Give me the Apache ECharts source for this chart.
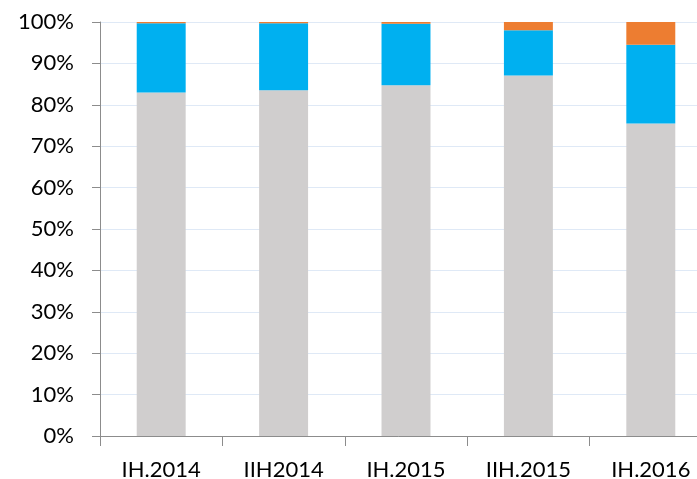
<!DOCTYPE html>
<html>
<head>
    <meta charset="utf-8">
    <title>ECharts</title>
    <script src="https://cdn.jsdelivr.net/npm/echarts@6/dist/echarts.min.js"></script>
</head>
<body style="margin:0;">
    <div id="main" style="width:697px;height:479px;"></div>
<script>
var categories = ['IH.2014', 'IIH2014', 'IH.2015', 'IIH.2015', 'IH.2016'];
var grayValues = [83.0, 83.5, 84.7, 87.1, 75.5];
var blueValues = [16.7, 16.2, 14.9, 10.9, 19.0];
var orangeValues = [0.3, 0.3, 0.4, 2.0, 5.5];
var yTicks = [0, 100, 10]; // min, max, interval

var myChart = echarts.init(document.getElementById('main'));

var fontFamily = 'Lato, "Open Sans", sans-serif';

function barSeries(name, data, color) {
    return {
        name: name,
        type: 'bar',
        stack: 'total',
        barWidth: '40%',
        data: data,
        itemStyle: { color: color },
        silent: true
    };
}

var option = {
    animation: false,
    backgroundColor: '#ffffff',
    grid: {
        left: 100,
        top: 22,
        width: 612,
        height: 414,
        outerBoundsMode: 'none',
        containLabel: false
    },
    xAxis: {
        type: 'category',
        data: categories,
        axisLine: { lineStyle: { color: '#8c8c8c', width: 1 } },
        axisTick: { show: true, length: 10, alignWithLabel: false, lineStyle: { color: '#8c8c8c' } },
        axisLabel: {
            color: '#000000',
            fontSize: 22,
            fontFamily: fontFamily,
            margin: 23,
            interval: 0
        }
    },
    yAxis: {
        type: 'value',
        min: yTicks[0],
        max: yTicks[1],
        interval: yTicks[2],
        axisLine: { show: true, lineStyle: { color: '#8c8c8c', width: 1 } },
        axisTick: { show: true, length: 8, lineStyle: { color: '#8c8c8c' } },
        splitLine: { show: true, lineStyle: { color: '#dfe9f6', width: 1 } },
        axisLabel: {
            color: '#000000',
            fontSize: 22,
            fontFamily: fontFamily,
            margin: 26,
            formatter: '{value}%'
        }
    },
    series: [
        barSeries('gray', grayValues, '#d0cece'),
        barSeries('blue', blueValues, '#00b0f0'),
        barSeries('orange', orangeValues, '#ed7d31')
    ]
};

myChart.setOption(option);
</script>
</body>
</html>
